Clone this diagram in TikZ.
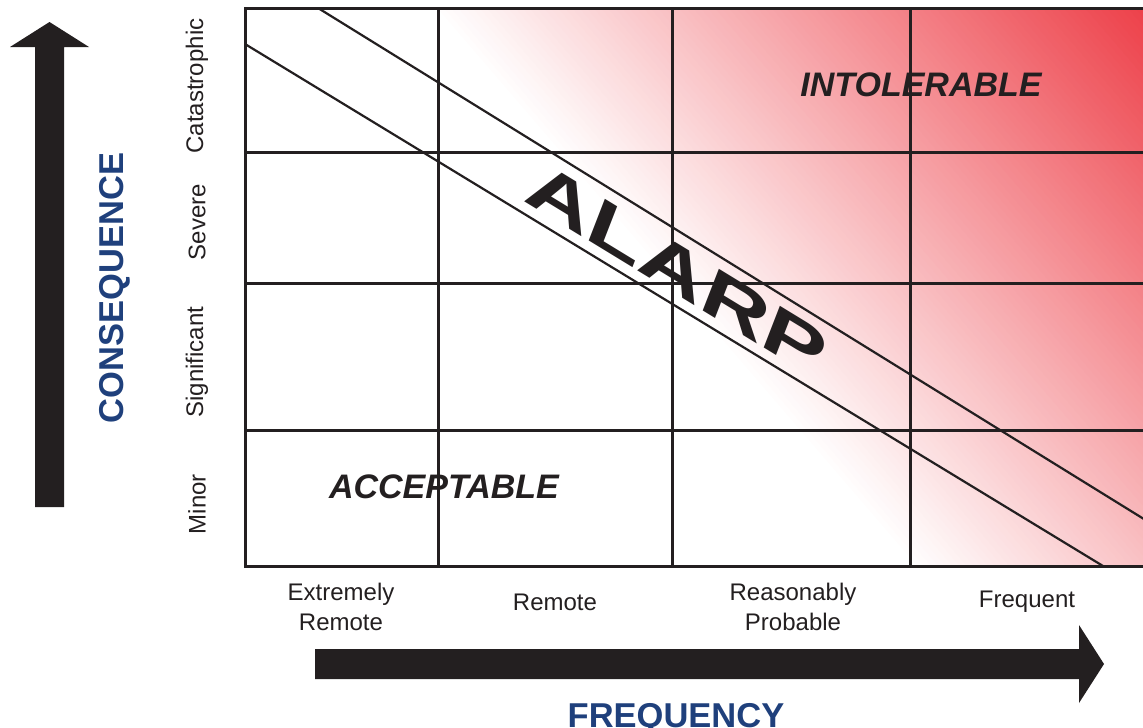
\documentclass[tikz,border=0pt]{standalone}
\usepackage{fontspec}
\setmainfont{Liberation Sans}
\usetikzlibrary{calc}
\definecolor{ink}{RGB}{35,31,32}
\definecolor{riskred}{RGB}{237,64,73}
\definecolor{axisblue}{RGB}{31,64,124}
\begin{document}
\begin{tikzpicture}[x=1pt,y=-1pt,
  gridline/.style={draw=ink,line width=3pt},
  diagline/.style={draw=ink,line width=2.2pt},
  bigarrow/.style={fill=ink,draw=none},
  rowlab/.style={rotate=90,text=ink,font=\fontsize{24}{28}\selectfont,inner sep=0pt},
  collab/.style={text=ink,font=\fontsize{24}{30}\selectfont,align=center,inner sep=0pt},
  axislab/.style={text=axisblue,font=\fontsize{34.5}{40}\selectfont\bfseries,inner sep=0pt},
  zonelab/.style={text=ink,font=\fontsize{34}{40}\selectfont\bfseries\itshape,inner sep=0pt}]
\useasboundingbox (0,0) rectangle (1143,728);
% gradient
\begin{scope}
  \clip (245,8) rectangle (1143,566);
  \foreach \i in {1,...,100}{
    \pgfmathsetmacro\d{\i*5.4}
    \pgfmathsetmacro\ax{430+0.758*\d-652}
    \pgfmathsetmacro\ay{8-0.652*\d-758}
    \pgfmathsetmacro\bx{430+0.758*\d+652}
    \pgfmathsetmacro\by{8-0.652*\d+758}
    \fill[riskred!\i!white] (\ax,\ay) -- (\bx,\by) -- ($(\bx,\by)+(1516,-1304)$) -- ($(\ax,\ay)+(1516,-1304)$) -- cycle;
  }
\end{scope}
% diagonal band
\begin{scope}
  \clip (245,8) rectangle (1143,566);
  \draw[diagline] (245,44) -- (1103,566);
  \draw[diagline] (318,8) -- (1160,529);
\end{scope}
% grid
\draw[gridline] (245,152) -- (1143,152);
\draw[gridline] (245,283) -- (1143,283);
\draw[gridline] (245,430) -- (1143,430);
\draw[gridline] (438,8) -- (438,566);
\draw[gridline] (672,8) -- (672,566);
\draw[gridline] (910,8) -- (910,566);
\draw[gridline,line cap=rect] (1143,8) -- (245,8) -- (245,566) -- (1143,566);
% arrows
\fill[bigarrow] (35,507) -- (35,47) -- (10,47) -- (49.5,22) -- (89,47) -- (64,47) -- (64,507) -- cycle;
\fill[bigarrow] (315,649) -- (1079,649) -- (1079,625) -- (1104,664) -- (1079,703) -- (1079,679) -- (315,679) -- cycle;
% row labels
\node[rowlab] (cat) at (197,86) {Catastrophic};
\node[rowlab] (sev) at (197,222) {Severe};
\node[rowlab] (sig) at (197,362) {Significant};
\node[rowlab] (min) at (197,504) {Minor};
% column labels
\node[collab] (er) at (341,607) {Extremely\\Remote};
\node[collab] (rem) at (555,602) {Remote};
\node[collab] (rp) at (793,607) {Reasonably\\Probable};
\node[collab] (fr) at (1027,602) {Frequent};
% axis titles
\node[axislab,rotate=90] (cons) at (115,288) {CONSEQUENCE};
\node[axislab,anchor=base] (freq) at (676,727) {FREQUENCY};
% zones
\node[zonelab] (intol) at (921,85) {INTOLERABLE};
\node[zonelab] (acc) at (444,487) {ACCEPTABLE};
\begin{scope}[shift={(677,269)},rotate=-31.4,xslant=-0.18]
  \node[transform shape,text=ink,inner sep=0pt,font=\fontsize{64}{70}\selectfont\bfseries] (alarp) at (0,0) {\scalebox{1.56}[1]{ALARP}};
\end{scope}
\end{tikzpicture}
\end{document}
